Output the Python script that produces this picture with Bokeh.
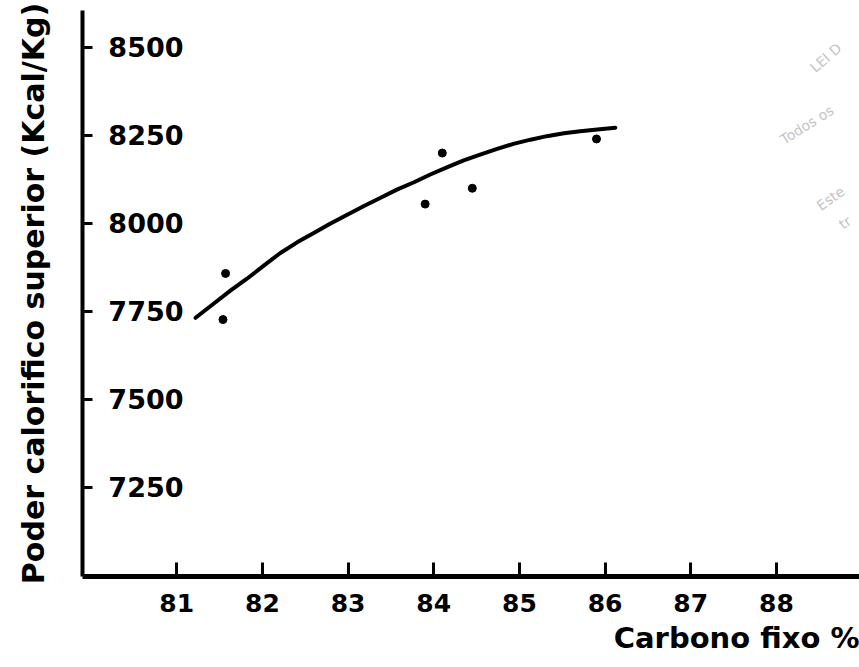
from bokeh.plotting import figure
from bokeh.models import Range1d, FixedTicker, Label, Title
from bokeh.embed import file_html
from bokeh.resources import INLINE

# ---- data ----
x_ticks = [81, 82, 83, 84, 85, 86, 87, 88]
y_ticks = [7250, 7500, 7750, 8000, 8250, 8500]

pts_x = [81.57, 81.54, 83.90, 84.10, 84.45, 85.90]
pts_y = [7858, 7727, 8055, 8200, 8100, 8240]

curve_x = [81.22, 81.43, 81.63, 81.82, 82.02, 82.21, 82.41, 82.60, 82.79,
           82.99, 83.18, 83.38, 83.57, 83.77, 83.96, 84.16, 84.35, 84.55,
           84.74, 84.93, 85.13, 85.32, 85.52, 85.71, 85.91, 86.12]
curve_y = [7732, 7772, 7810, 7843, 7881, 7916, 7947, 7973, 7999,
           8025, 8049, 8073, 8096, 8117, 8139, 8160, 8179, 8196,
           8212, 8226, 8238, 8248, 8256, 8262, 8267, 8272]

x_title = "Carbono fixo %"
y_title = "Poder calorifico superior (Kcal/Kg)"

wm_text = ["LEI D", "Todos os", "Este", "tr"]
wm_x = [88.48, 88.11, 88.54, 88.80]
wm_y = [8420, 8216, 8028, 7975]
wm_angle = [0.72, 0.56, 0.61, 0.61]

XMIN, XMAX = 79.9, 88.97
YMIN, YMAX = 6997, 8605
FONT = "DejaVu Sans"

p = figure(width=859, height=667,
           x_range=Range1d(XMIN, XMAX), y_range=Range1d(YMIN, YMAX),
           output_backend="svg", toolbar_location=None,
           min_border_left=82, min_border_right=0,
           min_border_top=10, min_border_bottom=91,
           background_fill_color="white", border_fill_color="white")
p.grid.visible = False
p.outline_line_color = None

# x axis
xa = p.xaxis[0]
xa.ticker = FixedTicker(ticks=x_ticks)
xa.axis_line_width = 5
xa.axis_line_color = "black"
xa.major_tick_line_width = 3
xa.major_tick_line_color = "black"
xa.major_tick_in = 14
xa.major_tick_out = 0
xa.minor_tick_in = 0
xa.minor_tick_out = 0
xa.major_label_text_font = FONT
xa.major_label_text_font_style = "bold"
xa.major_label_text_font_size = "25px"
xa.major_label_text_color = "black"
xa.major_label_standoff = 17

# y axis: tick labels sit inside the frame, right of the ticks
ya = p.yaxis[0]
ya.ticker = FixedTicker(ticks=y_ticks)
ya.axis_line_width = 4
ya.axis_line_color = "black"
ya.major_tick_line_width = 3
ya.major_tick_line_color = "black"
ya.major_tick_in = 10
ya.major_tick_out = 0
ya.minor_tick_in = 0
ya.minor_tick_out = 0
ya.major_label_text_font = FONT
ya.major_label_text_font_style = "bold"
ya.major_label_text_font_size = "27px"
ya.major_label_text_color = "black"
ya.major_label_standoff = -101
ya.axis_label = y_title
ya.axis_label_text_font = FONT
ya.axis_label_text_font_style = "bold"
ya.axis_label_text_font_size = "30px"
ya.axis_label_text_color = "black"
ya.axis_label_standoff = 54

# x title, right-aligned under the axis
p.add_layout(Title(text=x_title, align="right", standoff=8,
                   text_font=FONT, text_font_style="bold",
                   text_font_size="29px", text_color="black"), "below")

# fitted curve and data points
p.line(curve_x, curve_y, line_width=4, line_color="black", line_cap="round")
p.scatter(pts_x, pts_y, size=8, color="black")

# faint watermark
for t, wx, wy, wa in zip(wm_text, wm_x, wm_y, wm_angle):
    p.add_layout(Label(x=wx, y=wy, text=t, angle=wa,
                       text_font=FONT, text_font_size="14px",
                       text_color="#c4c4c4"))

open("out.html", "w").write(file_html(p, INLINE))
